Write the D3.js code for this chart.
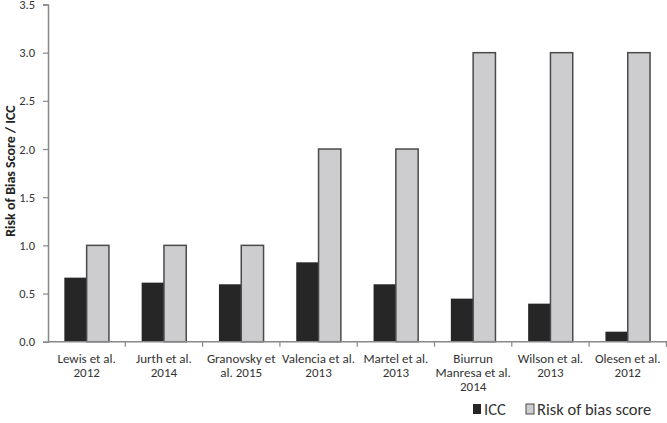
<!DOCTYPE html>
<html><head><meta charset="utf-8">
<script src="https://cdn.jsdelivr.net/npm/d3@7"></script>
<style>
body{margin:0;background:#fff;}
text{font-family:Carlito,Lato,"Open Sans",sans-serif;fill:#333;}
</style></head>
<body><svg id="c" width="667" height="423"></svg>
<script>
const categories = [
  ["Lewis et al.","2012"],
  ["Jurth et al.","2014"],
  ["Granovsky et","al. 2015"],
  ["Valencia et al.","2013"],
  ["Martel et al.","2013"],
  ["Biurrun","Manresa et al.","2014"],
  ["Wilson et al.","2013"],
  ["Olesen et al.","2012"]
];
const seriesNames = ["ICC","Risk of bias score"];
const iccValues = [0.665, 0.613, 0.596, 0.824, 0.596, 0.447, 0.395, 0.104];
const riskValues = [1, 1, 1, 2, 2, 3, 3, 3];
const yTicks = [0,0.5,1.0,1.5,2.0,2.5,3.0,3.5];
const yTitle = "Risk of Bias Score / ICC";

const svg = d3.select("#c");
const colors = {"ICC":"#262626","Risk of bias score":"#cdcdd0"};
const keys = categories.map((c,i)=>i);
const x0 = d3.scaleBand().domain(keys).range([48, 666.4]).paddingInner(0).paddingOuter(0);
const x1 = d3.scaleBand().domain(seriesNames).range([0, x0.bandwidth()]).paddingInner(0).paddingOuter(0.733);
const y = d3.scaleLinear().domain([0,3.5]).range([341.7, 4.5]);

// bars
const data = keys.map(i => ({i, vals:[{k:"ICC",v:iccValues[i]},{k:"Risk of bias score",v:riskValues[i]}]}));
const g = svg.append("g").selectAll("g").data(data).join("g")
  .attr("transform", d=>`translate(${x0(d.i)},0)`);
g.selectAll("rect").data(d=>d.vals).join("rect")
  .attr("x", d=>x1(d.k)).attr("width", x1.bandwidth())
  .attr("y", d=>y(d.v)).attr("height", d=>y(0)-y(d.v))
  .attr("fill", d=>colors[d.k])
  .attr("stroke", d=>d.k==="ICC"?"none":"#4a4a4a")
  .attr("stroke-width", 1.5);

// y axis
const yAxis = d3.axisLeft(y).tickValues(yTicks).tickFormat(d3.format(".1f")).tickSize(5).tickPadding(8);
const ya = svg.append("g").attr("transform","translate(48,0)").call(yAxis);
ya.select(".domain").attr("stroke","#888").attr("stroke-width",1.5);
ya.selectAll(".tick line").attr("stroke","#888").attr("stroke-width",1.2);
ya.selectAll(".tick text").style("font-size","12.5px").style("fill","#333");

// x axis
const xa = svg.append("g").attr("transform",`translate(0,${y(0)})`);
xa.append("line").attr("x1",48).attr("x2",667).attr("stroke","#888").attr("stroke-width",1.5);
xa.selectAll("line.t").data(keys.slice(1).concat([keys.length])).join("line").attr("class","t")
  .attr("x1", d=> d<keys.length ? x0(d) : x0(keys.length-1)+x0.bandwidth())
  .attr("x2", d=> d<keys.length ? x0(d) : x0(keys.length-1)+x0.bandwidth())
  .attr("y1",0).attr("y2",5).attr("stroke","#888").attr("stroke-width",1.2);
const lbl = xa.selectAll("text.l").data(keys).join("text").attr("class","l")
  .attr("x", d=>x0(d)+x0.bandwidth()/2).attr("y",21)
  .attr("text-anchor","middle").style("font-size","13px");
lbl.selectAll("tspan").data(d=>categories[d].map(s=>({s,x:x0(d)+x0.bandwidth()/2}))).join("tspan")
  .attr("x",d=>d.x).attr("dy",(d,j)=>j===0?0:14.3).text(d=>d.s);

// y title
svg.append("text").attr("transform","translate(10,171) rotate(-90)")
  .attr("text-anchor","middle").attr("dy","0.35em")
  .style("font-size","14px").style("font-weight","bold").style("fill","#222").text(yTitle);

// legend
const leg = [{k:"ICC",x:473},{k:"Risk of bias score",x:526}];
const lg = svg.append("g").selectAll("g").data(leg).join("g").attr("transform",d=>`translate(${d.x},404)`);
lg.append("rect").attr("width",8).attr("height",10)
  .attr("fill",d=>colors[d.k]).attr("stroke",d=>d.k==="ICC"?"none":"#4a4a4a").attr("stroke-width",1);
lg.append("text").attr("x",11).attr("y",5).attr("dy","0.36em").style("font-size","16.5px").text(d=>d.k);
</script></body></html>
